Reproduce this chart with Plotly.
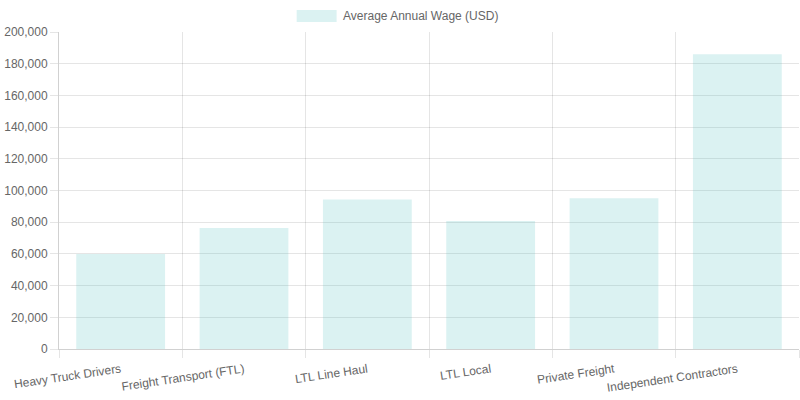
import plotly.graph_objects as go

categories = ["Heavy Truck Drivers", "Freight Transport (FTL)", "LTL Line Haul",
              "LTL Local", "Private Freight", "Independent Contractors"]
wages = [60000, 76400, 94300, 80800, 95100, 185900]
series_name = "Average Annual Wage (USD)"
y_ticks = list(range(0, 200001, 20000))

bar_fill = "rgba(75,192,192,0.2)"
grid = "rgba(0,0,0,0.1)"
txt = "#666666"
font_family = "Liberation Sans, Arial, Helvetica, sans-serif"

fig = go.Figure()
fig.add_trace(go.Bar(
    x=categories, y=wages, name=series_name,
    marker=dict(color=bar_fill, line=dict(width=0)),
    showlegend=False,
))

# Chart.js-like legend: 40x12 swatch + label, centred at top
fig.add_shape(type="rect", xref="paper", yref="paper",
              x0=(297 - 59) / 741, x1=(337 - 59) / 741,
              y0=(349 - 22) / 317, y1=(349 - 10) / 317,
              fillcolor=bar_fill, line=dict(width=0))
fig.add_annotation(text=series_name, xref="paper", yref="paper",
                   x=(341 - 59) / 741, y=(349 - 16) / 317,
                   xanchor="left", yanchor="middle", showarrow=False,
                   font=dict(size=12, color=txt, family=font_family))

fig.update_layout(
    width=800, height=400,
    margin=dict(l=59, r=1, t=32, b=51),
    paper_bgcolor="white", plot_bgcolor="white",
    bargap=0.28,
    font=dict(family=font_family, size=12, color=txt),
    xaxis=dict(
        type="category", tickson="boundaries",
        showgrid=True, gridcolor=grid, gridwidth=1,
        ticks="outside", ticklen=8, tickcolor=grid,
        showline=True, linecolor="rgba(0,0,0,0.18)", linewidth=1,
        tickangle=-8.5, tickfont=dict(size=12, color=txt),
        ticklabelstandoff=8,
    ),
    yaxis=dict(
        range=[0, 200000], tickvals=y_ticks, tickformat=",d",
        showgrid=True, gridcolor=grid, gridwidth=1,
        ticks="outside", ticklen=8, tickcolor=grid,
        showline=True, linecolor="rgba(0,0,0,0.18)", linewidth=1,
        zeroline=False, tickfont=dict(size=12, color=txt),
    ),
)

fig.write_html("out.html")
